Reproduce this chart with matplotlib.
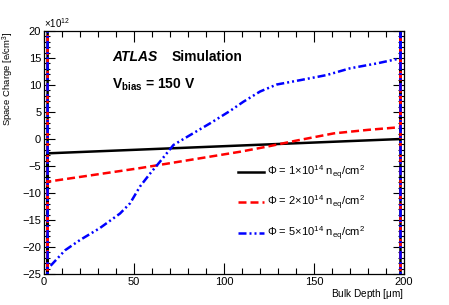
import numpy as np
import matplotlib
matplotlib.use('Agg')
import matplotlib.pyplot as plt
from matplotlib.ticker import MultipleLocator

plt.rcParams['font.family'] = ['Liberation Sans', 'DejaVu Sans']
plt.rcParams['mathtext.fontset'] = 'custom'
plt.rcParams['mathtext.rm'] = 'Liberation Sans'
plt.rcParams['mathtext.it'] = 'Liberation Sans:italic'
plt.rcParams['mathtext.bf'] = 'Liberation Sans:bold'

# depth [um] and space charge [1e12 e/cm^3]; first/last points are the edge spikes
depth_1 = [2, 2, 2, 198, 198, 198]
charge_1 = [60, -60, -2.65, 0.0, 60, -60]

depth_2 = [2, 2, 2, 53, 109, 124, 140, 161, 180, 198, 198, 198]
charge_2 = [60, -60, -7.9, -5.4, -2.35, -1.4, -0.3, 1.05, 1.7, 2.2, 60, -60]

depth_5 = [2, 2, 2, 3.3, 11.7, 20, 31, 42.2, 47.8, 53.3, 58.9, 64.4, 71.9, 81,
           92.2, 103.3, 110.7, 120, 129.3, 142.2, 157, 170, 184.8, 198, 198, 198]
charge_5 = [60, -60, -23.8, -23.6, -20.6, -18.7, -16.5, -13.8, -11.9, -8.8, -6.4,
            -4.2, -1.1, 0.7, 2.9, 5.2, 6.9, 8.8, 10.1, 10.9, 11.85, 13.1, 14.0,
            14.95, 60, -60]

labels = [r'$\Phi$ = 1$\times$10$^{14}$ n$_{\mathregular{eq}}$/cm$^{2}$',
          r'$\Phi$ = 2$\times$10$^{14}$ n$_{\mathregular{eq}}$/cm$^{2}$',
          r'$\Phi$ = 5$\times$10$^{14}$ n$_{\mathregular{eq}}$/cm$^{2}$']

fig = plt.figure(figsize=(4.49, 3.05), dpi=100)
ax = fig.add_axes([0.098, 0.1016, 0.802, 0.7966])

l1, = ax.plot(depth_1, charge_1, color='black', lw=1.8, ls='-')
l2, = ax.plot(depth_2, charge_2, color='#ff0000', lw=1.8, ls=(0, (3.2, 1.6)))
l5, = ax.plot(depth_5, charge_5, color='#0000ff', lw=1.8,
              ls=(0, (3.2, 1.2, 0.8, 1.2, 0.8, 1.2)))

ax.set_xlim(0, 200)
ax.set_ylim(-25, 20)
ax.xaxis.set_major_locator(MultipleLocator(50))
ax.xaxis.set_minor_locator(MultipleLocator(10))
ax.yaxis.set_major_locator(MultipleLocator(5))
ax.yaxis.set_minor_locator(MultipleLocator(1))
ax.tick_params(which='both', direction='in', top=True, right=True, labelsize=8, pad=2)
ax.tick_params(which='major', length=8, width=0.8)
ax.tick_params(which='minor', length=4, width=0.8)
for s in ax.spines.values():
    s.set_linewidth(0.9)

ax.set_xlabel(r'Bulk Depth [$\mathregular{\mu}$m]', fontsize=7.2, ha='right')
ax.xaxis.set_label_coords(1.0, -0.055)
ax.set_ylabel(r'Space Charge [e/cm$^{3}$]', fontsize=6.8, ha='right')
ax.yaxis.set_label_coords(-0.078, 1.0)
ax.text(0.0, 1.005, r'$\times$10$^{12}$', transform=ax.transAxes, fontsize=7,
        ha='left', va='bottom')

ax.text(0.189, 0.893, 'ATLAS', transform=ax.transAxes, fontsize=10,
        fontweight='bold', fontstyle='italic', va='center')
ax.text(0.353, 0.893, 'Simulation', transform=ax.transAxes, fontsize=10,
        fontweight='bold', va='center')
ax.text(0.189, 0.778, r'V$_{\mathbf{bias}}$ = 150 V', transform=ax.transAxes,
        fontsize=10, fontweight='bold', va='center')

ax.legend([l1, l2, l5], labels, loc='upper left', bbox_to_anchor=(0.538, 0.455),
          frameon=False, fontsize=8, handlelength=2.4, handletextpad=0.25,
          labelspacing=1.1, borderpad=0, borderaxespad=0)

fig.savefig('out.png', dpi=100)
